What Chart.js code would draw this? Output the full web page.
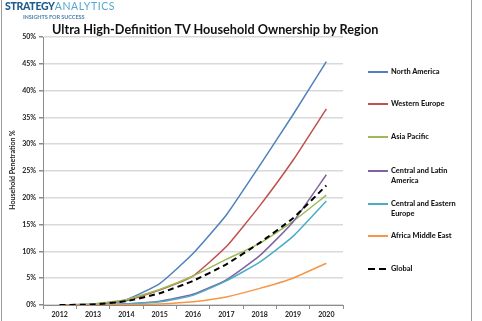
<!DOCTYPE html>
<html>
<head>
<meta charset="utf-8">
<script src="https://cdn.jsdelivr.net/npm/chart.js@4/dist/chart.umd.min.js"></script>
<style>
  html, body { margin: 0; padding: 0; background: #fff; }
  #wrap { position: relative; width: 482px; height: 321px; overflow: hidden; font-family: Lato, "Open Sans", sans-serif; }
  #frame { position: absolute; left: 1px; top: -2px; width: 469px; height: 330px; border-left: 1px solid #9a9a9a; border-right: 1px solid #9a9a9a; }
  #chart { position: absolute; left: 0; top: 0; }
  .logo1 { position: absolute; left: 5px; top: 0px; font-size: 10.5px; font-weight: 900; letter-spacing: -0.3px; color: #1d5c8c; }
  .logo1 span { color: #55a8cf; font-weight: 400; letter-spacing: 0.6px; }
  .logo2 { position: absolute; left: 23px; top: 13px; font-size: 5.6px; font-weight: 900; letter-spacing: -0.1px; color: #5b8fb4; }
  .title { position: absolute; left: 52px; top: 21px; font-size: 12.7px; font-weight: 700; color: #111; white-space: nowrap; }
  .ylab { position: absolute; left: 12px; top: 170px; transform: translate(-50%, -50%) rotate(-90deg); font-size: 7px; font-weight: 700; color: #222; white-space: nowrap; }
  .leg { position: absolute; left: 368px; font-size: 7.4px; font-weight: 900; color: #1a1a1a; line-height: 10px; }
  .leg i { position: absolute; left: 0; top: 4px; width: 20px; height: 2px; }
  .leg b { display: block; margin-left: 23px; }
</style>
</head>
<body>
<div id="wrap">
  <canvas id="chart" width="482" height="321"></canvas>
  <div id="frame"></div>
  <div class="logo1">STRATEGY<span>ANALYTICS</span></div>
  <div class="logo2">INSIGHTS FOR SUCCESS</div>
  <div class="title">Ultra High-Definition TV Household Ownership by Region</div>
  <div class="ylab">Household Penetration %</div>
  <div id="legend"></div>
</div>
<script>
// anos e penetracao (%) por regiao
const anos = ["2012", "2013", "2014", "2015", "2016", "2017", "2018", "2019", "2020"];
const americaNorte = [0, 0.2, 1, 4, 9.6, 16.8, 26, 35.5, 45.4];
const europaOcidental = [0, 0.1, 0.8, 2.8, 5.4, 10.9, 18.5, 27, 36.6];
const asiaPacifico = [0, 0.2, 1, 2.9, 5.4, 8.5, 11.5, 15.6, 20.5];
const americaLatina = [0, 0, 0.2, 0.7, 2, 4.7, 9.2, 15.5, 24.3];
const europaLeste = [0, 0, 0.2, 0.6, 1.8, 4.5, 8, 12.8, 19.4];
const africaMedioOriente = [0, 0, 0.05, 0.2, 0.6, 1.5, 3.1, 5, 7.8];
const global = [0, 0.1, 0.7, 2.2, 4.5, 7.6, 11.6, 16.2, 22.3];
const marcasY = [0, 5, 10, 15, 20, 25, 30, 35, 40, 45, 50];

const series = [
  { nome: "North America", dados: americaNorte, cor: "#4f81bd", top: 67 },
  { nome: "Western Europe", dados: europaOcidental, cor: "#c0504d", top: 99 },
  { nome: "Asia Pacific", dados: asiaPacifico, cor: "#9bbb59", top: 132 },
  { nome: "Central and Latin<br>America", dados: americaLatina, cor: "#8064a2", top: 166 },
  { nome: "Central and Eastern<br>Europe", dados: europaLeste, cor: "#4bacc6", top: 199 },
  { nome: "Africa Middle East", dados: africaMedioOriente, cor: "#f79646", top: 231 },
  { nome: "Global", dados: global, cor: "#000000", top: 264, tracejado: true },
];

// legenda em html
const legendaEl = document.getElementById("legend");
series.forEach(s => {
  const d = document.createElement("div");
  d.className = "leg";
  d.style.top = s.top + "px";
  const traco = s.tracejado
    ? '<i style="background:linear-gradient(90deg,#000 0 7px,transparent 7px 11px,#000 11px 18px,transparent 18px)"></i>'
    : '<i style="background:' + s.cor + '"></i>';
  d.innerHTML = traco + "<b>" + s.nome + "</b>";
  legendaEl.appendChild(d);
});

const fonteTicks = { family: "Lato, 'Open Sans', sans-serif", size: 7, weight: "bold" };

new Chart(document.getElementById("chart").getContext("2d"), {
  type: "line",
  data: {
    labels: anos,
    datasets: series.map(s => ({
      label: s.nome,
      data: s.dados,
      borderColor: s.cor,
      borderWidth: s.tracejado ? 2 : 1.5,
      borderDash: s.tracejado ? [6, 4] : [],
      pointRadius: 0,
      tension: 0.15,
      fill: false,
    })).reverse(),
  },
  options: {
    responsive: false,
    animation: false,
    layout: { padding: { left: 0, top: 37, right: 139, bottom: 0 } },
    plugins: { legend: { display: false }, tooltip: { enabled: false } },
    scales: {
      x: {
        offset: true,
        afterFit: s => { s.height = 16; },
        grid: { display: true, drawOnChartArea: false, offset: true, tickLength: 4, color: "#8c8c8c" },
        border: { color: "#8c8c8c" },
        ticks: { font: fonteTicks, color: "#222", padding: 2, maxRotation: 0 },
      },
      y: {
        min: 0,
        max: 50,
        afterFit: s => { s.width = 43; },
        afterBuildTicks: s => { s.ticks = marcasY.map(v => ({ value: v })); },
        grid: { color: "#d9d9d9", lineWidth: 1.5, tickLength: 4, tickColor: "#8c8c8c" },
        border: { color: "#8c8c8c" },
        ticks: { font: fonteTicks, color: "#222", padding: 3, callback: v => v + "%" },
      },
    },
  },
});
</script>
</body>
</html>
